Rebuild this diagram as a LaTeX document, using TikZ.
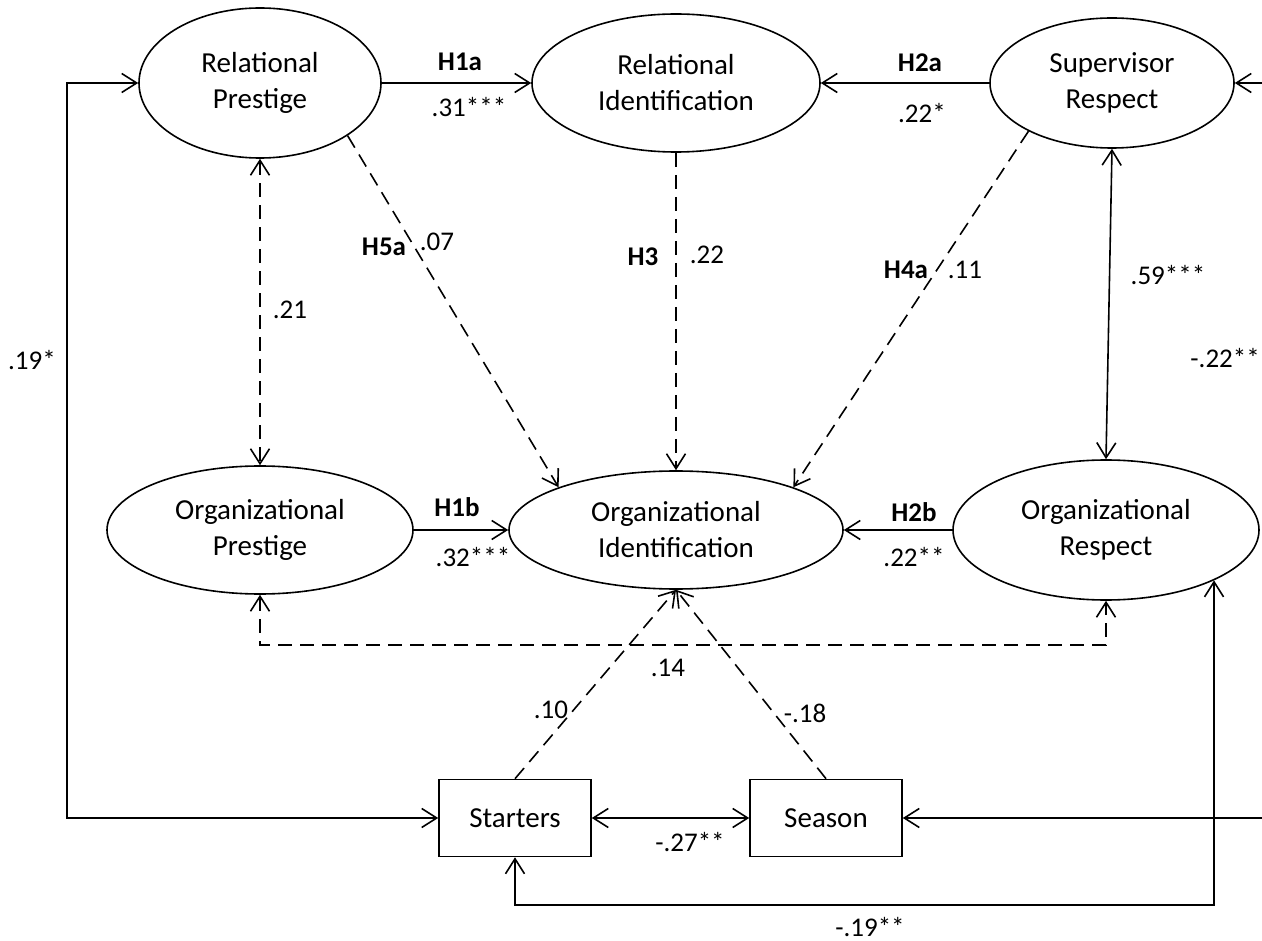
\documentclass[tikz,border=0pt]{standalone}
\usepackage{fontspec}
\setmainfont{Carlito}
\usetikzlibrary{arrows.meta,shapes.geometric}
\begin{document}
\begin{tikzpicture}[x=1pt,y=-1pt,
  lat/.style 2 args={ellipse,draw,line width=1.6pt,inner sep=0pt,minimum width=#1,minimum height=#2,align=center,font=\fontsize{29}{36}\selectfont},
  obs/.style={rectangle,draw,line width=1.6pt,inner sep=0pt,minimum width=152,minimum height=77,font=\fontsize{29}{36}\selectfont},
  lab/.style={inner sep=0pt,font=\fontsize{27}{32}\selectfont},
  conn/.style={line width=1.6pt},
  dsh/.style={line width=1.6pt,dash pattern=on 14pt off 8pt},
  tip/.tip={Straight Barb[length=15pt,width=19pt,line width=1.6pt]},
  ar/.style={-tip},
  dar/.style={tip-tip}]
\useasboundingbox[fill=white] (0,0) rectangle (1262,941);

% nodes
\node[lat={242}{150}] (rp) at (260,83) {Relational\\Prestige};
\node[lat={288}{138}] (ri) at (676,83) {Relational\\Identification};
\node[lat={244}{130}] (sr) at (1112,83) {Supervisor\\Respect};
\node[lat={306}{128}] (op) at (260,530) {Organizational\\Prestige};
\node[lat={334}{118}] (oi) at (676,530) {Organizational\\Identification};
\node[lat={306}{140}] (orr) at (1106,530) {Organizational\\Respect};
\node[obs] (st) at (515,818) {Starters};
\node[obs] (se) at (826,818) {Season};

\coordinate (lt) at (67,83);
\coordinate (lb) at (67,818);
\coordinate (dl) at (260,645);
\coordinate (dr) at (1106,645);
\coordinate (bl) at (515,905);
\coordinate (re1) at (1262,83);
\coordinate (re2) at (1262,818);

% solid paths
\draw[conn,ar] (rp.east) -- (ri.west);
\draw[conn,ar] (sr.west) -- (ri.east);
\draw[conn,ar] (op.east) -- (oi.west);
\draw[conn,ar] (orr.west) -- (oi.east);
\draw[conn,dar] (sr.south) -- (orr.north);
\draw[conn,dar] (st.east) -- (se.west);
\draw[conn,dar] (rp.west) -- (lt) -- (lb) -- (st.west);
\draw[conn,dar] (st.south) -- (bl) -| (orr.-25);
\draw[conn,ar] (re1) -- (sr.east);
\draw[conn,ar] (re2) -- (se.east);

% dashed paths
\draw[dsh,ar] (rp.-31) -- (oi.160);
\draw[dsh,ar] (ri.south) -- (oi.north);
\draw[dsh,ar] (sr.-150) -- (oi.20);
\draw[dsh,dar] (rp.south) -- (op.north);
\draw[dsh,dar] (op.south) -- (dl) -- (dr) -- (orr.south);
\draw[dsh,ar] (st.north) -- (oi.south);
\draw[dsh,ar] (se.north) -- (oi.south);

% labels
\node[lab] (h1a) at (460,62) {\textbf{H1a}};
\node[lab] (c1a) at (469,107) {.31***};
\node[lab] (h2a) at (920,63) {\textbf{H2a}};
\node[lab] (c2a) at (922,113) {.22*};
\node[lab] (h5a) at (384,247) {\textbf{H5a}};
\node[lab] (c5a) at (437,242) {.07};
\node[lab] (h3) at (643,257) {\textbf{H3}};
\node[lab] (c3) at (707,255) {.22};
\node[lab] (h4a) at (906,270) {\textbf{H4a}};
\node[lab] (c4a) at (965,270) {.11};
\node[lab] (c21) at (290,310) {.21};
\node[lab] (c59) at (1168,275) {.59***};
\node[lab,anchor=east] (c22) at (1260,358) {-.22**};
\node[lab] (c19) at (32,360) {.19*};
\node[lab] (h1b) at (457,507) {\textbf{H1b}};
\node[lab] (c1b) at (473,557) {.32***};
\node[lab] (h2b) at (914,512) {\textbf{H2b}};
\node[lab] (c2b) at (914,557) {.22**};
\node[lab] (c14) at (668,668) {.14};
\node[lab] (c10) at (551,710) {.10};
\node[lab] (c18) at (805,713) {-.18};
\node[lab] (c27) at (690,842) {-.27**};
\node[lab] (c19b) at (870,927) {-.19**};
\end{tikzpicture}
\end{document}
